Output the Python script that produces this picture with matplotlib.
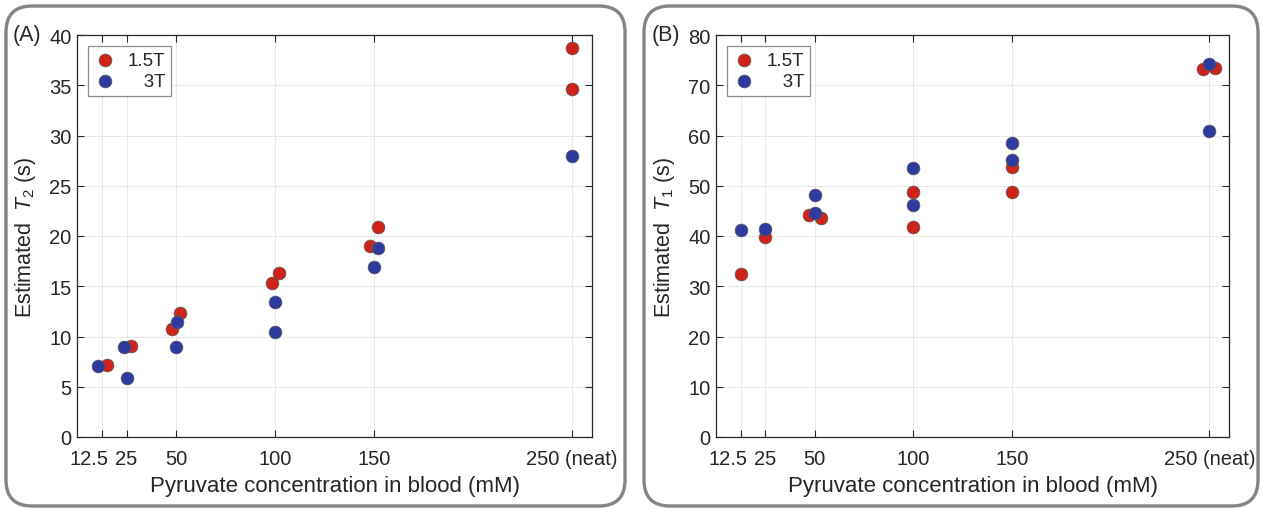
import matplotlib
matplotlib.use('Agg')
import matplotlib.pyplot as plt
import matplotlib.transforms as mtrans
from matplotlib.patches import FancyBboxPatch

plt.rcParams['font.family'] = ['Liberation Sans', 'DejaVu Sans']
plt.rcParams['mathtext.fontset'] = 'custom'
plt.rcParams['mathtext.rm'] = 'Liberation Sans'
plt.rcParams['mathtext.it'] = 'Liberation Sans:italic'

# concentration ticks
conc_ticks = [12.5, 25, 50, 100, 150, 250]
conc_labels = ['12.5', '25', '50', '100', '150', '250 (neat)']

# (A) T2 estimates
t2_x_15 = [15, 27.5, 48.2, 52, 98.2, 102, 148, 152, 250, 250]
t2_y_15 = [7.2, 9.1, 10.75, 12.3, 15.3, 16.3, 19.0, 20.9, 38.7, 34.6]
t2_x_3 = [10.6, 23.5, 25, 50.3, 50, 100, 100, 152, 150, 250]
t2_y_3 = [7.05, 9.0, 5.9, 11.4, 9.0, 13.4, 10.4, 18.8, 16.9, 27.95]

# (B) T1 estimates
t1_x_15 = [12.5, 25, 47, 53, 100, 100, 150, 150, 247, 253]
t1_y_15 = [32.5, 39.8, 44.2, 43.6, 48.8, 41.7, 53.8, 48.7, 73.2, 73.5]
t1_x_3 = [12.5, 25, 50, 50, 100, 100, 150, 150, 250, 250]
t1_y_3 = [41.2, 41.4, 48.2, 44.6, 53.5, 46.1, 58.5, 55.1, 74.2, 60.8]

red = '#CD231B'
blue = '#2F3A9E'
txt = '#262626'

fig = plt.figure(figsize=(12.62, 5.10), dpi=100)

# rounded panel frames (in inches so corners stay round)
for x0, x1 in [(0.06, 6.25), (6.44, 12.58)]:
    box = FancyBboxPatch((x0, 0.03), x1 - x0, 5.0,
                         boxstyle='round,pad=0,rounding_size=0.26',
                         transform=fig.dpi_scale_trans, fill=False,
                         edgecolor='#858585', linewidth=2.4, zorder=0)
    fig.patches.append(box)

ax_a = fig.add_axes([77 / 1262, 72 / 510, 515 / 1262, 402 / 510])
ax_b = fig.add_axes([716 / 1262, 72 / 510, 513 / 1262, 402 / 510])

panels = [
    (ax_a, t2_x_15, t2_y_15, t2_x_3, t2_y_3, 40, 5, r'Estimated  $\mathit{T}_{2}$ (s)', '(A)'),
    (ax_b, t1_x_15, t1_y_15, t1_x_3, t1_y_3, 80, 10, r'Estimated  $\mathit{T}_{1}$ (s)', '(B)'),
]

for ax, x15, y15, x3, y3, ymax, ystep, ylab, tag in panels:
    ax.scatter(x15, y15, s=85, color=red, edgecolor='#5a5a5a', linewidth=0.5,
               label='1.5T', zorder=3)
    ax.scatter(x3, y3, s=85, color=blue, edgecolor='#5a5a5a', linewidth=0.5,
               label='   3T', zorder=3)
    ax.set_xlim(0, 260)
    ax.set_ylim(0, ymax)
    ax.set_xticks(conc_ticks)
    ax.set_xticklabels(conc_labels)
    ax.set_yticks(range(0, ymax + 1, ystep))
    ax.grid(color='#e8e8e8', linewidth=0.7)
    ax.set_axisbelow(True)
    ax.tick_params(direction='in', length=5, width=0.8, top=True, right=True,
                   labelsize=14.5, colors=txt)
    ax.tick_params(axis='x', pad=9)
    ax.tick_params(axis='y', pad=4)
    # the 12.5 label sits a little left of its tick in the original
    lab = ax.get_xticklabels()[0]
    lab.set_transform(lab.get_transform() +
                      mtrans.ScaledTranslation(-13 / 100, 0, fig.dpi_scale_trans))
    for sp in ax.spines.values():
        sp.set_color(txt)
        sp.set_linewidth(0.9)
    ax.set_xlabel('Pyruvate concentration in blood (mM)', fontsize=16, color=txt, labelpad=5)
    ax.set_ylabel(ylab, fontsize=15.5, color=txt, labelpad=8)
    ax.text(-0.125, 1.0, tag, transform=ax.transAxes, fontsize=15.5, color=txt,
            ha='left', va='center')
    leg = ax.legend(loc='upper left', fontsize=13.5, frameon=True, fancybox=False,
                    edgecolor='#8c8c8c', framealpha=1, handletextpad=0.6,
                    borderpad=0.3, labelspacing=0.2, handlelength=1.2,
                    borderaxespad=0.6)
    leg.get_frame().set_linewidth(0.9)
    for t in leg.get_texts():
        t.set_color(txt)

fig.savefig('out.png', dpi=100)
